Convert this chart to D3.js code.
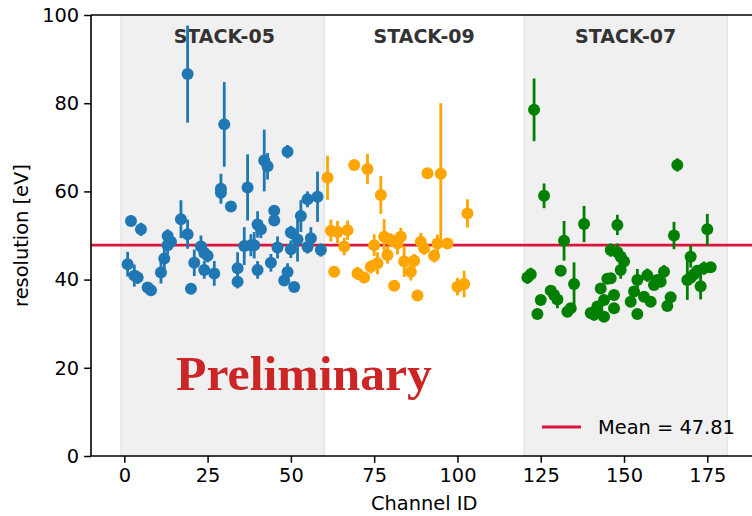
<!DOCTYPE html>
<html>
<head>
<meta charset="utf-8">
<script src="https://cdn.jsdelivr.net/npm/d3@7"></script>
<style>
  body { margin: 0; background: #fff; }
  svg { display: block; font-family: "DejaVu Sans", sans-serif; }
</style>
</head>
<body>
<script>
// stacks: name, channel span, colour
var stackNames = ["STACK-05", "STACK-09", "STACK-07"];
var stackSpans = [[-1, 60], [60, 120], [120, 181]];
var shadedStacks = [true, false, true];
var stackColors = ["#1f77b4", "orange", "green"];

// STACK-05 channels, resolution [eV], error
var ch05 = [1, 2, 3, 4, 5, 7, 8, 11, 12, 13, 13, 14, 17, 19, 19, 20, 21, 23, 24, 24, 25, 27,
  29, 29, 30, 32, 34, 34, 36, 37, 38, 39, 40, 40, 41, 42, 43, 44, 45, 45, 46, 48, 49, 49,
  50, 50, 51, 52, 53, 55, 55, 56, 58, 59];
var res05 = [43.5, 53.3, 40.9, 40.5, 51.4, 38.2, 37.6, 41.6, 44.8, 49.9, 47.8, 48.6, 53.7, 86.6, 50.3, 37.9, 43.8, 47.5, 46.1, 42.2, 45.4, 41.4,
  60.6, 59.7, 75.2, 56.6, 42.6, 39.5, 47.6, 60.9, 47.8, 47.8, 52.5, 42.2, 51.4, 67.0, 65.7, 43.8, 55.6, 53.4, 47.3, 39.8, 69.0, 41.7,
  50.7, 46.9, 38.3, 49.1, 54.4, 58.2, 47.4, 49.4, 58.8, 46.7];
var err05 = [2.8, 1.2, 2.5, 1.5, 1.5, 1.0, 1.0, 2.5, 2.8, 1.5, 2.0, 1.5, 4.3, 11.0, 3.3, 0.5, 3.0, 2.5, 1.5, 2.0, 1.5, 2.8,
  3.4, 1.5, 9.6, 1.0, 3.6, 1.5, 4.3, 7.5, 2.5, 3.0, 3.0, 2.0, 2.0, 7.0, 3.0, 2.0, 1.0, 1.0, 2.5, 1.0, 1.5, 2.0,
  1.5, 2.0, 0.5, 5.0, 3.6, 1.8, 1.5, 2.5, 5.7, 1.5];

// STACK-09
var ch09 = [61, 62, 63, 64, 66, 67, 69, 70, 72, 73, 74, 75, 76, 77, 78, 79, 80, 81, 82, 83,
  84, 86, 87, 88, 89, 90, 91, 93, 94, 95, 97, 100, 102, 103];
var res09 = [63.1, 51.1, 41.8, 50.8, 47.5, 51.2, 66.0, 41.4, 40.5, 65.1, 42.9, 47.8, 43.7, 59.2, 49.7, 45.6, 49.0, 38.6, 48.2, 49.7,
  44.1, 41.8, 44.3, 36.4, 48.6, 47.1, 64.1, 45.4, 48.2, 64.0, 48.2, 38.4, 39.0, 55.0];
var err09 = [5.0, 2.5, 0.5, 2.5, 2.0, 2.2, 1.0, 1.5, 0.5, 3.4, 1.5, 2.5, 2.5, 4.3, 4.0, 2.0, 1.5, 0.5, 2.5, 2.0,
  3.5, 2.0, 1.5, 0.5, 2.0, 1.5, 0.8, 1.5, 2.0, 16.0, 1.0, 2.0, 3.0, 3.2];

// STACK-07
var ch07 = [121, 122, 123, 124, 125, 126, 128, 129, 130, 131, 132, 133, 134, 135, 138, 140, 141, 142, 142, 143,
  144, 144, 145, 146, 146, 147, 147, 148, 148, 149, 149, 150, 152, 153, 154, 154, 156, 157, 158, 159,
  160, 161, 162, 163, 164, 165, 166, 169, 170, 170, 171, 172, 173, 174, 175, 176];
var res07 = [40.5, 41.2, 78.5, 32.2, 35.4, 59.0, 37.5, 36.5, 35.5, 42.0, 48.8, 32.7, 33.5, 39.0, 52.6, 32.4, 32.0, 33.1, 33.9, 38.0,
  35.4, 31.6, 40.2, 46.7, 40.3, 36.5, 33.5, 52.4, 46.2, 45.2, 42.2, 44.1, 35.0, 37.3, 39.9, 32.2, 36.1, 41.0, 35.0, 38.8,
  39.9, 39.5, 41.8, 34.0, 36.0, 50.0, 66.0, 39.9, 45.2, 40.4, 41.2, 42.0, 38.5, 42.6, 51.4, 42.8];
var err07 = [1.5, 1.5, 7.1, 0.5, 0.8, 2.8, 1.0, 2.0, 2.0, 0.8, 4.5, 0.8, 1.0, 4.9, 4.1, 0.8, 1.0, 1.0, 1.0, 1.0,
  1.0, 1.0, 1.0, 1.5, 1.0, 1.0, 1.0, 2.3, 2.0, 2.0, 2.0, 2.0, 1.0, 1.0, 2.5, 0.5, 1.0, 1.5, 1.0, 1.0,
  1.0, 1.0, 1.5, 1.0, 1.0, 3.1, 1.5, 4.5, 2.5, 1.0, 1.0, 1.0, 3.0, 1.5, 3.5, 1.0];

var meanRes = 47.81;
var xTicks = [0, 25, 50, 75, 100, 125, 150, 175];
var yTicks = [0, 20, 40, 60, 80, 100];

window.onload = function() {
    var w = 752, h = 516;
    var left = 91, top = 15, bottom = 456;

    var svg = d3.select("body").append("svg")
        .attr("width", w)
        .attr("height", h);

    // x: -10..190 (right edge falls just outside the picture)
    var x = d3.scaleLinear().domain([-10, 190]).range([left, left + 200 * 3.3314]);
    var y = d3.scaleLinear().domain([0, 100]).range([bottom, top]);

    // shaded stack bands
    svg.selectAll(".band")
        .data(stackSpans.filter(function(d, i) { return shadedStacks[i]; }))
        .enter().append("rect")
        .attr("class", "band")
        .attr("x", function(d) { return x(d[0]); })
        .attr("y", top)
        .attr("width", function(d) { return x(d[1]) - x(d[0]); })
        .attr("height", bottom - top)
        .style("fill", "#f0f0f0")
        .style("stroke", "#e6e6e6")
        .style("stroke-width", 1.5);

    // stack labels
    svg.selectAll(".stacklabel")
        .data(stackNames)
        .enter().append("text")
        .attr("x", function(d, i) { return x((stackSpans[i][0] + stackSpans[i][1]) / 2 + (i == 0 ? 0.5 : 0)); })
        .attr("y", 43)
        .attr("text-anchor", "middle")
        .style("font-weight", "bold")
        .style("font-size", "19px")
        .style("fill", "#333333")
        .text(function(d) { return d; });

    // mean line
    svg.append("line")
        .attr("x1", left).attr("x2", w)
        .attr("y1", y(meanRes)).attr("y2", y(meanRes))
        .style("stroke", "crimson")
        .style("stroke-width", 2.8);

    // points with error bars
    var series = [[ch05, res05, err05], [ch09, res09, err09], [ch07, res07, err07]];
    series.forEach(function(s, k) {
        var pts = s[0].map(function(c, i) { return {ch: c, v: s[1][i], e: s[2][i]}; });
        var g = svg.append("g");
        g.selectAll("line")
            .data(pts)
            .enter().append("line")
            .attr("x1", function(d) { return x(d.ch); })
            .attr("x2", function(d) { return x(d.ch); })
            .attr("y1", function(d) { return y(d.v - d.e); })
            .attr("y2", function(d) { return y(d.v + d.e); })
            .style("stroke", stackColors[k])
            .style("stroke-width", 2.8);
        g.selectAll("circle")
            .data(pts)
            .enter().append("circle")
            .attr("cx", function(d) { return x(d.ch); })
            .attr("cy", function(d) { return y(d.v); })
            .attr("r", 6)
            .style("fill", stackColors[k]);
    });

    // axes
    var xAxis = svg.append("g")
        .attr("transform", "translate(0," + bottom + ")")
        .call(d3.axisBottom(x).tickValues(xTicks).tickSize(6.8).tickPadding(5));
    var yAxis = svg.append("g")
        .attr("transform", "translate(" + left + ",0)")
        .call(d3.axisLeft(y).tickValues(yTicks).tickSize(6.8).tickPadding(5));
    [xAxis, yAxis].forEach(function(a) {
        a.select(".domain").remove();
        a.selectAll("line").style("stroke", "#000").style("stroke-width", 1.5);
        a.selectAll("text").style("font-size", "19.4px").style("font-family", "DejaVu Sans").style("fill", "#000");
    });

    // spines
    svg.append("line").attr("x1", left).attr("x2", left).attr("y1", top).attr("y2", bottom)
        .style("stroke", "#000").style("stroke-width", 1.6);
    svg.append("line").attr("x1", left).attr("x2", w).attr("y1", top).attr("y2", top)
        .style("stroke", "#000").style("stroke-width", 1.6);
    svg.append("line").attr("x1", left).attr("x2", w).attr("y1", bottom).attr("y2", bottom)
        .style("stroke", "#000").style("stroke-width", 1.6);

    // axis labels
    svg.append("text")
        .attr("x", x(90)).attr("y", 510)
        .attr("text-anchor", "middle")
        .style("font-size", "19.4px")
        .text("Channel ID");
    svg.append("text")
        .attr("transform", "translate(28," + ((top + bottom) / 2) + ") rotate(-90)")
        .attr("text-anchor", "middle")
        .style("font-size", "19.4px")
        .text("resolution [eV]");

    // legend
    svg.append("line")
        .attr("x1", 542).attr("x2", 581).attr("y1", 427).attr("y2", 427)
        .style("stroke", "crimson").style("stroke-width", 2.8);
    svg.append("text")
        .attr("x", 598).attr("y", 434)
        .style("font-size", "19.4px")
        .text("Mean = " + meanRes.toFixed(2));

    // watermark
    svg.append("text")
        .attr("x", 176).attr("y", 390)
        .attr("textLength", 256)
        .attr("lengthAdjust", "spacingAndGlyphs")
        .style("font-family", "'Liberation Serif', 'DejaVu Serif', serif")
        .style("font-weight", "bold")
        .style("font-size", "48px")
        .style("fill", "#cc2525")
        .text("Preliminary");
};
</script>
</body>
</html>
